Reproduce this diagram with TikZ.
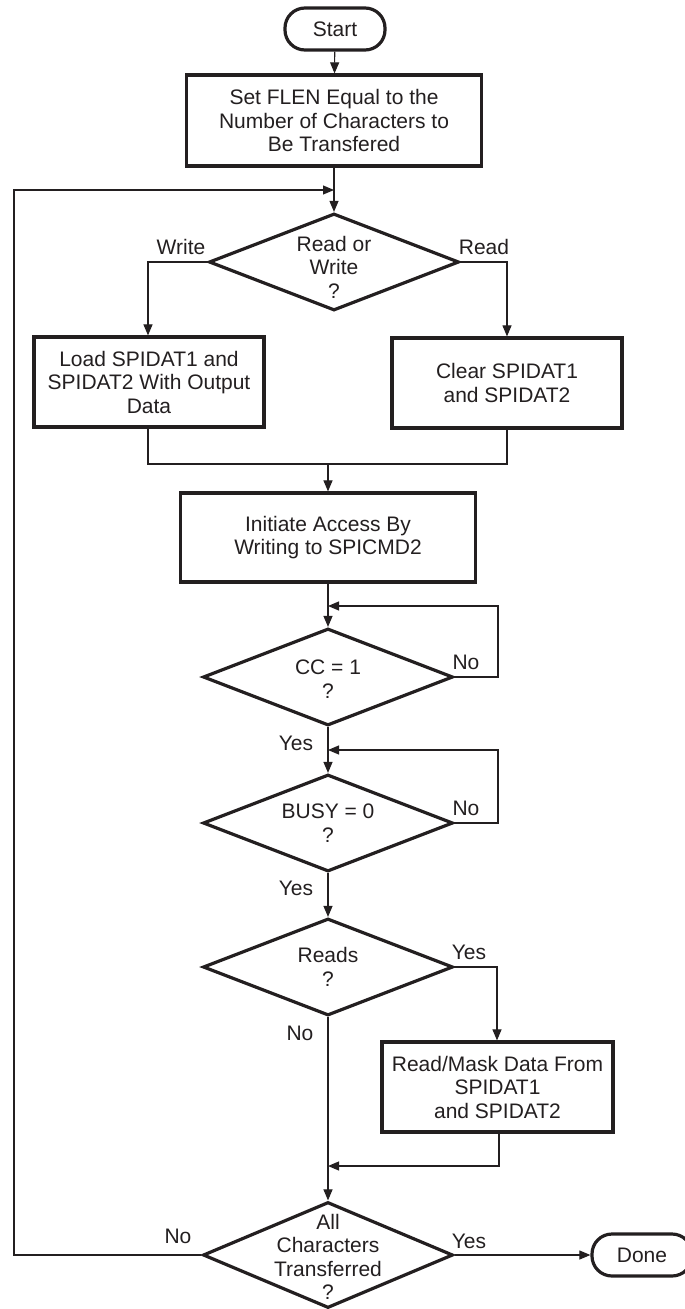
\documentclass[tikz,border=0pt]{standalone}
\usepackage{fontspec}
\setmainfont{Liberation Sans}
\usetikzlibrary{arrows.meta,shapes.geometric}
\definecolor{ink}{RGB}{35,31,32}
\begin{document}
\begin{tikzpicture}[x=1pt,y=-1pt,
  every node/.style={font=\fontsize{21}{23.5}\selectfont, text=ink},
  box/.style={draw=ink, line width=3.2pt, minimum width=295pt, minimum height=89pt, align=center, inner sep=0},
  term/.style={draw=ink, line width=3.2pt, rounded corners=20pt, minimum width=100pt, minimum height=42pt, inner sep=0},
  dia/.style={draw=ink, diamond, line width=3.2pt, inner sep=0, minimum width=250pt, minimum height=97pt},
  dtext/.style={align=center, inner sep=0},
  conn/.style={draw=ink, line width=1.1pt},
  arr/.style={conn, -{Triangle[length=11pt,width=9pt]}},
  lab/.style={inner sep=0}
]
\useasboundingbox (0,0) rectangle (685,1309);

% nodes
\node[term] (start) at (335,29) {Start};
\node[box, minimum height=91pt] (flen) at (334,120.5) {Set FLEN Equal to the\\Number of Characters to\\Be Transfered};
\node[dia] (rw) at (334,262) {};
\node[dtext] (rwt) at (334,267) {Read or\\Write\\?};
\node[box, minimum width=230pt, minimum height=90pt] (load) at (149,382) {Load SPIDAT1 and\\SPIDAT2 With Output\\Data};
\node[box, minimum width=230pt, minimum height=90pt] (clear) at (507,383) {Clear SPIDAT1\\and SPIDAT2};
\node[box] (init) at (328,537.5) {Initiate Access By\\Writing to SPICMD2};
\node[dia] (cc) at (328,677) {};
\node[dtext] (cct) at (328,679) {CC = 1\\?};
\node[dia] (busy) at (328,823) {};
\node[dtext] (busyt) at (328,823) {BUSY = 0\\?};
\node[dia] (reads) at (328,967) {};
\node[dtext] (readst) at (328,967) {Reads\\?};
\node[box, minimum width=231pt, minimum height=90pt] (mask) at (497.5,1087) {Read/Mask Data From\\SPIDAT1\\and SPIDAT2};
\node[dia, minimum height=106pt] (all) at (328,1255) {};
\node[dtext] (allt) at (328,1257) {All\\Characters\\Transferred\\?};
\node[term] (done) at (642,1255) {Done};

% junction coordinates
\coordinate (j0) at (334,190);
\coordinate (jw) at (148,262);
\coordinate (jr) at (507,262);
\coordinate (jm) at (328,464);
\coordinate (jc) at (328,606);
\coordinate (jcr) at (498,677);
\coordinate (jb) at (328,750);
\coordinate (jbr) at (498,823);
\coordinate (jyr) at (497,967);
\coordinate (jk) at (328,1166);
\coordinate (jl) at (14,1255);

% connectors
\draw[arr] (start) -- (flen);
\draw[arr] (flen) -- (rw);
\draw[arr] (all.west) -- (jl) |- (j0);
\draw[arr] (rw.west) -- (jw) -- (load.north -| jw);
\draw[arr] (rw.east) -- (jr) -- (clear.north -| jr);
\draw[conn] (load.south -| jw) |- (jm);
\draw[conn] (clear.south -| jr) |- (jm);
\draw[arr] (jm) -- (init.north -| jm);
\draw[arr] (init) -- (cc);
\draw[arr] (cc.east) -- (jcr) |- (jc);
\draw[arr] (cc) -- (busy);
\draw[arr] (busy.east) -- (jbr) |- (jb);
\draw[arr] (busy) -- (reads);
\draw[arr] (reads.east) -- (jyr) -- (mask.north -| jyr);
\draw[arr] (reads) -- (all);
\draw[arr] (mask.south -| 499,0) |- (jk);
\draw[arr] (all.east) -- (done.west);

% labels
\node[lab] (lw) at (181,247) {Write};
\node[lab] (lr) at (484,247) {Read};
\node[lab] (lcn) at (466,662) {No};
\node[lab] (lcy) at (296,743) {Yes};
\node[lab] (lbn) at (466,808) {No};
\node[lab] (lby) at (296,888) {Yes};
\node[lab] (lry) at (469,952) {Yes};
\node[lab] (lrn) at (300,1033) {No};
\node[lab] (lan) at (178,1236) {No};
\node[lab] (lay) at (469,1241) {Yes};
\end{tikzpicture}
\end{document}
